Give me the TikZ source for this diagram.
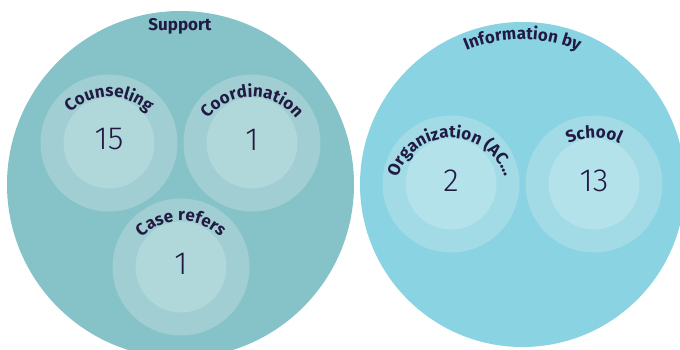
\documentclass[tikz,border=0pt]{standalone}
\usepackage{fontspec}
\setmainfont{Fira Sans}
\newfontfamily\numfont{Fira Sans Light}
\usetikzlibrary{decorations.text}

\definecolor{ink}{HTML}{221A43}
\definecolor{supportbg}{HTML}{86C3C8}
\definecolor{supportring}{HTML}{A0CED2}
\definecolor{supportcore}{HTML}{B0D8DA}
\definecolor{infobg}{HTML}{8AD3E2}
\definecolor{inforing}{HTML}{A2DBE6}
\definecolor{infocore}{HTML}{B3E2EA}

\newcommand{\labelfont}{\fontsize{17}{19}\selectfont\bfseries}

\tikzset{
    num/.style = {font = \numfont\fontsize{32}{36}\selectfont, text = ink, inner sep = 0pt},
    arclabel/.style = {decorate, decoration = {text along path, text align = center, text color = ink, text = {|\labelfont|#1}}},
}

\begin{document}
\begin{tikzpicture}[x = 1pt, y = 1pt]
            \clip (0, 0) rectangle (680, 349);

            \coordinate (support) at (180.5, 164.5);
            \coordinate (info) at (522.5, 164.5);
            \coordinate (counseling) at (109, 206);
            \coordinate (coordination) at (252, 206);
            \coordinate (casereferral) at (181, 82);
            \coordinate (organization) at (451, 165);
            \coordinate (school) at (594, 165);

            % outer groups
            \fill[supportbg](support) circle (173.5pt);
            \fill[infobg](info) circle (162.5pt);

            \foreach \c in {counseling, coordination, casereferral}{
                \fill[supportring](\c) circle (68.5pt);
                \fill[supportcore](\c) circle (45.5pt);
            }
            \foreach \c in {organization, school}{
                \fill[inforing](\c) circle (68.5pt);
                \fill[infocore](\c) circle (45.5pt);
            }

            \node[anchor = base, font = \labelfont, text = ink] (supportLabel) at (180, 318.3) {Support};
            \path[arclabel = {Information by}] (info) ++(138:145) arc (138:42:145pt);

            \path[arclabel = {Counseling}] ([yshift = -10pt]counseling) ++(165:56) arc (165:15:56pt);
            \path[arclabel = {Coordination}] ([yshift = -10pt]coordination) ++(165:56) arc (165:15:56pt);
            \path[arclabel = {Case refers}] ([yshift = -10pt]casereferral) ++(165:56) arc (165:15:56pt);
            \path[arclabel = {Organization (AC…}] ([yshift = -10pt]organization) ++(200:56) arc (200:-20:56pt);
            \path[arclabel = {School}] ([yshift = -10pt]school) ++(165:56) arc (165:15:56pt);

            \node[num] (counselingVal) at ([yshift = 3.5pt]counseling) {15};
            \node[num] (coordinationVal) at ([yshift = 3.5pt]coordination) {1};
            \node[num] (casereferralVal) at ([yshift = 3.5pt]casereferral) {1};
            \node[num] (organizationVal) at ([yshift = 3.5pt]organization) {2};
            \node[num] (schoolVal) at ([yshift = 3.5pt]school) {13};
\end{tikzpicture}
\end{document}
